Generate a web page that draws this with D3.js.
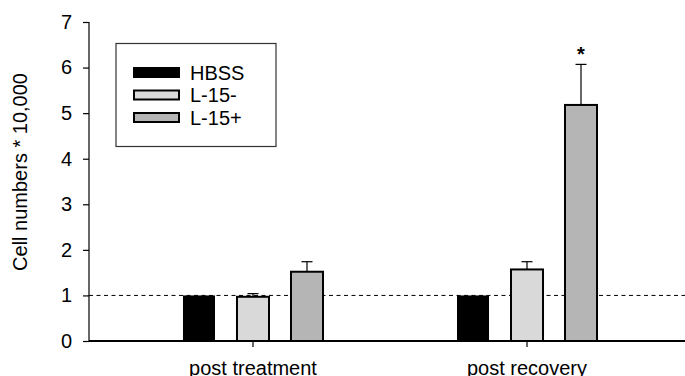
<!DOCTYPE html>
<html>
<head>
<meta charset="utf-8">
<script src="https://cdn.jsdelivr.net/npm/d3@7"></script>
<style>
  html, body { margin: 0; padding: 0; background: #fff; }
  svg { display: block; }
  text { font-family: "Liberation Sans", Arial, sans-serif; fill: #000; }
</style>
</head>
<body>
<svg id="chart" width="685" height="376"></svg>
<script>
// ---- data ----
const categories = ["post treatment", "post recovery"];
const series = ["HBSS", "L-15-", "L-15+"];
const hbssValues = [1.0, 1.0];
const l15minusValues = [0.97, 1.57];
const l15plusValues = [1.52, 5.18];
const hbssErrors = [0, 0];
const l15minusErrors = [0.07, 0.17];
const l15plusErrors = [0.22, 0.89];
const significance = [["post recovery", "L-15+"]];
const yTicks = [0, 1, 2, 3, 4, 5, 6, 7];
const yLabel = "Cell numbers * 10,000";
const referenceLevel = 1;
const colors = ["#000000", "#d9d9d9", "#b5b5b5"];

const valuesBySeries = [hbssValues, l15minusValues, l15plusValues];
const errorsBySeries = [hbssErrors, l15minusErrors, l15plusErrors];
const rows = [];
categories.forEach((c, ci) => {
  series.forEach((s, si) => {
    rows.push({ cat: c, ser: s, value: valuesBySeries[si][ci], err: errorsBySeries[si][ci], si });
  });
});

// ---- layout ----
const W = 685, H = 376;
const x0 = 89, yBottom = 341, yTop = 22;
const svg = d3.select("#chart");

const x = d3.scaleBand().domain(categories).range([x0, 691]).paddingInner(0).paddingOuter(0.0985);
const xSub = d3.scaleBand().domain(series).range([-81, 81]).paddingInner(0.37).paddingOuter(0.185);
const y = d3.scaleLinear().domain([0, 7]).range([yBottom, yTop]);
const color = d3.scaleOrdinal().domain(series).range(colors);
const cx = c => x(c) + x.bandwidth() / 2;

// reference dashed line
svg.append("line")
  .attr("x1", x0).attr("x2", W)
  .attr("y1", y(referenceLevel)).attr("y2", y(referenceLevel))
  .attr("stroke", "#000").attr("stroke-width", 1)
  .attr("stroke-dasharray", "4,3.5");

// bars
svg.append("g").selectAll("rect").data(rows).join("rect")
  .attr("x", d => cx(d.cat) + xSub(d.ser) + 1)
  .attr("width", xSub.bandwidth() - 2)
  .attr("y", d => y(d.value))
  .attr("height", d => y(0) - y(d.value))
  .attr("fill", d => color(d.ser))
  .attr("stroke", "#000")
  .attr("stroke-width", d => d.si === 0 ? 0 : 2);

// error bars (upper only)
const eb = svg.append("g").selectAll("g").data(rows.filter(d => d.err > 0)).join("g");
eb.append("line")
  .attr("x1", d => cx(d.cat) + xSub(d.ser) + xSub.bandwidth() / 2)
  .attr("x2", d => cx(d.cat) + xSub(d.ser) + xSub.bandwidth() / 2)
  .attr("y1", d => y(d.value))
  .attr("y2", d => y(d.value + d.err))
  .attr("stroke", "#000").attr("stroke-width", 1.2);
eb.append("line")
  .attr("x1", d => cx(d.cat) + xSub(d.ser) + xSub.bandwidth() / 2 - 5.5)
  .attr("x2", d => cx(d.cat) + xSub(d.ser) + xSub.bandwidth() / 2 + 5.5)
  .attr("y1", d => y(d.value + d.err))
  .attr("y2", d => y(d.value + d.err))
  .attr("stroke", "#000").attr("stroke-width", 1.2);

// significance star
significance.forEach(([c, s]) => {
  const r = rows.find(d => d.cat === c && d.ser === s);
  svg.append("text")
    .attr("x", cx(c) + xSub(s) + xSub.bandwidth() / 2)
    .attr("y", y(r.value + r.err) - 3)
    .attr("text-anchor", "middle")
    .attr("font-size", 20)
    .attr("font-weight", "bold")
    .text("*");
});

// y axis
const yAxis = d3.axisLeft(y).tickValues(yTicks).tickSize(6).tickPadding(11).tickFormat(d3.format("d"));
const gy = svg.append("g").attr("transform", `translate(${x0},0)`).call(yAxis);
gy.select(".domain").remove();
gy.append("line").attr("x1", 0).attr("x2", 0).attr("y1", yTop).attr("y2", yBottom)
  .attr("stroke", "#000").attr("stroke-width", 1.2);
gy.selectAll(".tick line").attr("stroke", "#000").attr("stroke-width", 1.2);
gy.selectAll(".tick text").attr("font-size", 20).attr("fill", "#000")
  .attr("font-family", "Liberation Sans, Arial, sans-serif");

// x axis
const xAxis = d3.axisBottom(x).tickSize(6).tickPadding(14);
const gx = svg.append("g").attr("transform", `translate(0,${yBottom})`).call(xAxis);
gx.select(".domain").remove();
gx.append("line").attr("x1", x0).attr("x2", W).attr("y1", 0).attr("y2", 0)
  .attr("stroke", "#000").attr("stroke-width", 1.8);
gx.selectAll(".tick line").attr("stroke", "#000").attr("stroke-width", 1.2);
gx.selectAll(".tick text").attr("font-size", 20).attr("fill", "#000")
  .attr("font-family", "Liberation Sans, Arial, sans-serif");

// y label
svg.append("text")
  .attr("transform", `translate(27,172) rotate(-90)`)
  .attr("text-anchor", "middle")
  .attr("font-size", 20)
  .text(yLabel);

// legend
const lg = svg.append("g");
lg.append("rect").attr("x", 116).attr("y", 43.5).attr("width", 160).attr("height", 103)
  .attr("fill", "#fff").attr("stroke", "#333").attr("stroke-width", 1.2);
series.forEach((s, i) => {
  const yy = 67 + i * 22.5;
  lg.append("rect").attr("x", 134).attr("y", yy + 1).attr("width", 45).attr("height", 9)
    .attr("fill", color(s)).attr("stroke", "#000").attr("stroke-width", 2);
  lg.append("text").attr("x", 190).attr("y", yy + 12.5).attr("font-size", 20).text(s);
});
</script>
</body>
</html>
